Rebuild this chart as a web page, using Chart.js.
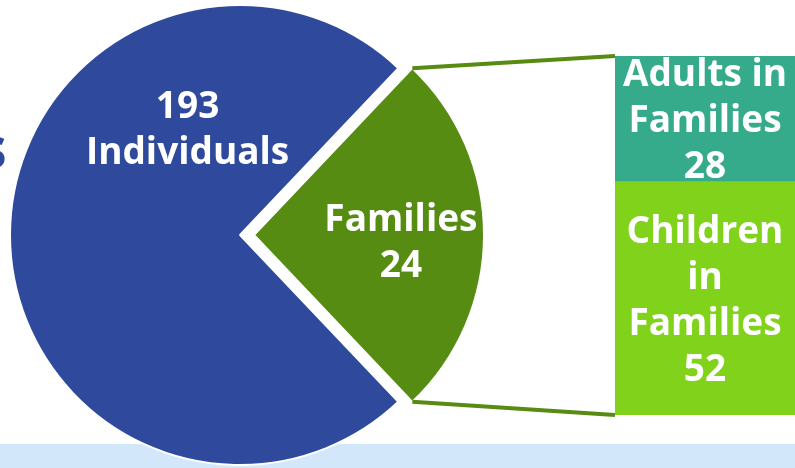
<!DOCTYPE html>
<html>
<head>
<meta charset="utf-8">
<script src="https://cdn.jsdelivr.net/npm/chart.js@4.4.1/dist/chart.umd.min.js"></script>
<style>
  body { margin: 0; background: #fff; }
  #wrap { position: relative; width: 795px; height: 468px; overflow: hidden; }
  #strip { position: absolute; left: 0; top: 444px; width: 795px; height: 24px; background: #d2e7fa; }
  #title { position: absolute; left: -22px; top: 106px; font: bold 58px "Open Sans", sans-serif; color: #2f4a9c; }
  #pieChart { position: absolute; left: 0; top: 0; }
  #barChart { position: absolute; left: 615px; top: 0; }
</style>
</head>
<body>
<div id="wrap">
  <div id="strip"></div>
  <div id="title">s</div>
  <canvas id="pieChart" width="795" height="468"></canvas>
  <canvas id="barChart" width="180" height="468"></canvas>
</div>
<script>
// pie: slice sizes (degrees), and the counts printed on it
const pieLabels = ['Families', 'Individuals'];
const pieCounts = [24, 193];
const pieShares = [93, 267];
const pieText = [['Families', '24'], ['193', 'Individuals']];
const pieColors = ['#578c13', '#2f4a9c'];

// breakdown bar of the families slice
const barLabels = ['Children in Families', 'Adults in Families'];
const barValues = [52, 28];
const barText = [['Children', 'in', 'Families', '52'], ['Adults in', 'Families', '28']];
const barColors = ['#80d31a', '#35ab8c'];

const FONT = 'bold 37px "Open Sans", sans-serif';
const LINE_H = 46;
const CAP_H = 0.714 * 37;

// draws a block of lines centred on (cx, cy)
function drawLines(ctx, lines, cx, cy) {
    ctx.save();
    ctx.font = FONT;
    ctx.fillStyle = '#fff';
    ctx.textAlign = 'center';
    ctx.textBaseline = 'alphabetic';
    const top = cy - (lines.length - 1) * LINE_H / 2;
    lines.forEach((line, i) => {
        ctx.fillText(line, cx, top + i * LINE_H + CAP_H / 2);
    });
    ctx.restore();
}

// bar chart first, so the pie can read its bar edges for the connector lines
const barLeft = 615;
const barChart = new Chart(document.getElementById('barChart'), {
    type: 'bar',
    data: {
        labels: ['Families'],
        datasets: barValues.map((v, i) => ({
            label: barLabels[i],
            data: [v],
            backgroundColor: barColors[i],
            borderWidth: 0,
            barPercentage: 1,
            categoryPercentage: 1
        }))
    },
    options: {
        responsive: false,
        animation: false,
        layout: { padding: { top: 56, bottom: 53, left: 0, right: 0 } },
        plugins: { legend: { display: false }, tooltip: { enabled: false } },
        scales: {
            x: { display: false, stacked: true },
            y: { display: false, stacked: true, min: 0, max: 80 }
        }
    },
    plugins: [{
        id: 'barText',
        afterDatasetsDraw(chart) {
            chart.data.datasets.forEach((ds, i) => {
                const bar = chart.getDatasetMeta(i).data[0];
                drawLines(chart.ctx, barText[i], bar.x, (bar.y + bar.base) / 2);
            });
        }
    }]
});

// label anchors inside the pie: angle (deg) and distance as share of the radius
const pieTextPos = [{ angle: 2, dist: 0.7 }, { angle: -116, dist: 0.52 }];

new Chart(document.getElementById('pieChart'), {
    type: 'pie',
    data: {
        labels: pieLabels,
        datasets: [{
            data: pieShares,
            backgroundColor: pieColors,
            borderColor: '#fff',
            borderWidth: 2,
            offset: [56, 0]
        }]
    },
    options: {
        responsive: false,
        animation: false,
        radius: 230,
        rotation: 43.5,
        layout: { padding: { left: 0, right: 315, top: 2, bottom: 0 } },
        plugins: { legend: { display: false }, tooltip: { enabled: false } }
    },
    plugins: [{
        id: 'pieExtras',
        afterDatasetsDraw(chart) {
            const ctx = chart.ctx;
            const arcs = chart.getDatasetMeta(0).data;

            // connector lines from the families slice to the bar
            const fam = arcs[0];
            const half = (fam.startAngle + fam.endAngle) / 2;
            const shift = (fam.options.offset || 0) / 4;
            const ox = fam.x + Math.cos(half) * shift;
            const oy = fam.y + Math.sin(half) * shift;
            const r = fam.outerRadius;
            const topBar = barChart.getDatasetMeta(1).data[0];
            const lowBar = barChart.getDatasetMeta(0).data[0];
            const bx = barLeft + topBar.x - topBar.width / 2;

            ctx.save();
            ctx.strokeStyle = '#578b12';
            ctx.lineWidth = 4;
            ctx.beginPath();
            ctx.moveTo(ox + r * Math.cos(fam.startAngle), oy + r * Math.sin(fam.startAngle));
            ctx.lineTo(bx, topBar.y);
            ctx.moveTo(ox + r * Math.cos(fam.endAngle), oy + r * Math.sin(fam.endAngle));
            ctx.lineTo(bx, lowBar.base);
            ctx.stroke();
            ctx.restore();

            // white labels in the slices
            arcs.forEach((arc, i) => {
                const p = pieTextPos[i];
                const a = p.angle * Math.PI / 180;
                const cx = arc.x + Math.cos(a) * p.dist * arc.outerRadius;
                const cy = arc.y + Math.sin(a) * p.dist * arc.outerRadius;
                drawLines(ctx, pieText[i], cx, cy);
            });
        }
    }]
});
</script>
</body>
</html>
